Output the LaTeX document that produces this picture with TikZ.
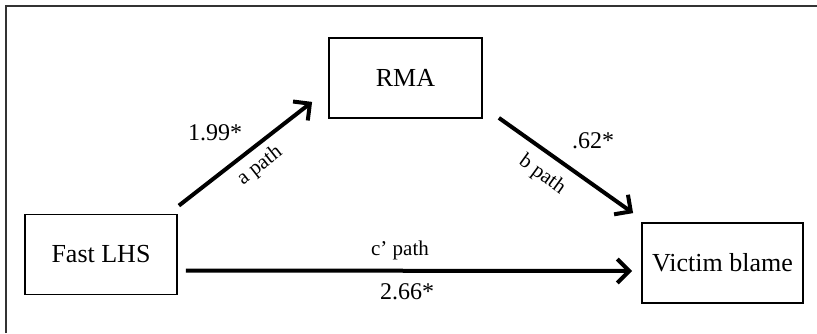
\documentclass[tikz,border=0pt]{standalone}
\usepackage{fontspec}
\setmainfont{Liberation Serif}
\usetikzlibrary{arrows.meta,positioning}

\begin{document}
\begin{tikzpicture}[x=1pt, y=-1pt,
  box/.style={draw, line width=1.8pt, inner sep=0pt, minimum height=80pt, font=\fontsize{26}{30}\selectfont},
  num/.style={inner sep=0pt, font=\fontsize{24}{28}\selectfont},
  pathlbl/.style={inner sep=0pt, font=\fontsize{21}{25}\selectfont},
  link/.style={line width=4pt, ->},
  >={Straight Barb[length=12pt, width=24pt, line join=miter]}]
\useasboundingbox (0,0) rectangle (817,333);
% frame
\draw[line width=1.6pt, black!80] (6,333) -- (6,6) -- (817,6);
% boxes
\node[box, minimum width=152pt] (fast) at (101,254.5) {Fast LHS};
\node[box, minimum width=153pt] (rma) at (405.5,78) {RMA};
\node[box, minimum width=161pt] (victim) at (722.5,263) {Victim blame};
% paths
\draw[link] ([shift={(1,-8)}]fast.north east) -- ([shift={(-16,-17)}]rma.south west);
\draw[link] ([shift={(16,-1)}]rma.south east) -- ([shift={(-8,-9)}]victim.north west);
\draw[link] ([shift={(8,16)}]fast.east) -- ([shift={(-9,8)}]victim.west);
% labels
\node[num] (acoef) at (215,133) {1.99*};
\node[pathlbl, rotate=38] (alabel) at (260,166) {a path};
\node[num] (bcoef) at (593,141) {.62*};
\node[pathlbl, rotate=-36] (blabel) at (542,175) {b path};
\node[pathlbl] (clabel) at (400,250) {c’ path};
\node[num] (ccoef) at (407,292) {2.66*};
\end{tikzpicture}
\end{document}
